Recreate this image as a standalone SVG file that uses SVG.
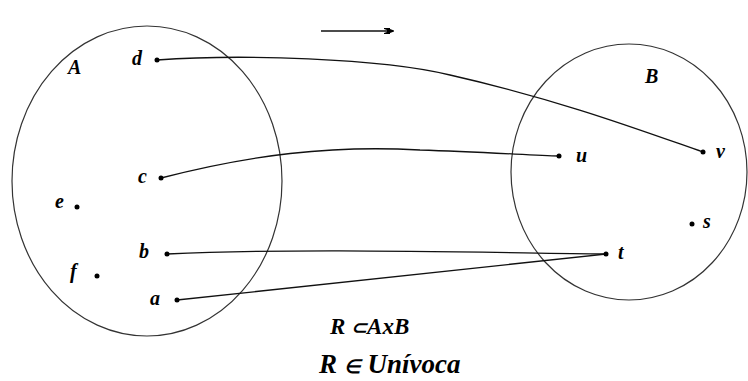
<svg xmlns="http://www.w3.org/2000/svg" width="748" height="381" viewBox="0 0 748 381">
<style>
.set{fill:none;stroke:#333;stroke-width:1.2}
.ln{fill:none;stroke:#111;stroke-width:1.3}
.dot{fill:#000}
.lb{font-family:"Liberation Serif",serif;font-style:italic;font-weight:bold;font-size:20px;fill:#000}
.eq1{font-family:"Liberation Serif",serif;font-style:italic;font-weight:bold;font-size:23px;fill:#000}
.eq2{font-family:"Liberation Serif",serif;font-style:italic;font-weight:bold;font-size:27px;fill:#000}
.sym{font-size:19px}
</style>
<defs>
<marker id="ah" markerWidth="12" markerHeight="8" refX="6" refY="4" orient="auto" markerUnits="userSpaceOnUse">
<path d="M0,1 L6,1 L6,2 L10,3.5 L10,4.5 L6,6 L6,7 L0,7 L0,6 L3,5 L3,3 L0,2 Z" fill="#000"/>
</marker>
</defs>
<g id="setA"><ellipse class="set" cx="147" cy="181" rx="135" ry="155"/><text class="lb" x="68" y="74">A</text></g>
<g id="setB"><ellipse class="set" cx="629" cy="172" rx="118" ry="128"/><text class="lb" x="645" y="83">B</text></g>
<g id="connectors">
<path class="ln" d="M157,60 C240,54 380,58 450,75 C560,100 640,130 703,152"/>
<path class="ln" d="M161,178 C250,155 330,145 420,150 C480,152 530,155 559,156"/>
<path class="ln" d="M167,254 C300,248 450,252 606,254"/>
<path class="ln" d="M177,300 L606,254"/>
<line class="ln" x1="321" y1="31" x2="390" y2="31" marker-end="url(#ah)"/>
</g>
<g id="d"><circle class="dot" cx="157" cy="60" r="2.5"/><text class="lb" x="132" y="65">d</text></g>
<g id="c"><circle class="dot" cx="161" cy="178" r="2.5"/><text class="lb" x="138" y="183">c</text></g>
<g id="e"><circle class="dot" cx="77" cy="207" r="2.5"/><text class="lb" x="55" y="208">e</text></g>
<g id="b"><circle class="dot" cx="167" cy="254" r="2.5"/><text class="lb" x="139" y="258">b</text></g>
<g id="f"><circle class="dot" cx="97" cy="276" r="2.5"/><text class="lb" x="70" y="278">f</text></g>
<g id="a"><circle class="dot" cx="177" cy="300" r="2.5"/><text class="lb" x="150" y="305">a</text></g>
<g id="u"><circle class="dot" cx="559" cy="156" r="2.5"/><text class="lb" x="576" y="162">u</text></g>
<g id="v"><circle class="dot" cx="703" cy="152" r="2.5"/><text class="lb" x="716" y="158">v</text></g>
<g id="s"><circle class="dot" cx="692" cy="224" r="2.5"/><text class="lb" x="703" y="228">s</text></g>
<g id="t"><circle class="dot" cx="606" cy="254" r="2.5"/><text class="lb" x="618" y="259">t</text></g>
<text class="eq1" x="330" y="334">R <tspan class="sym">⊂</tspan>AxB</text>
<text class="eq2" x="319" y="373">R <tspan class="sym">∈</tspan> Unívoca</text>
</svg>
